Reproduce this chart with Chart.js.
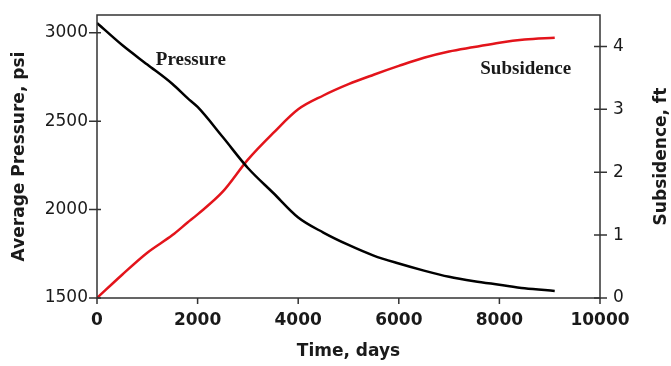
<!DOCTYPE html>
<html lang="en">
<head>
<meta charset="UTF-8" />
<title>Pressure and Subsidence</title>
<script src="https://cdn.jsdelivr.net/npm/chart.js"></script>
<style>
  html, body { margin: 0; padding: 0; background: #fff; }
  #wrap { width: 671px; height: 366px; position: relative; }
</style>
</head>
<body>
<div id="wrap"><canvas id="chart"></canvas></div>
<script>
// data
const timeDays = [0, 500, 1000, 1500, 1800, 2000, 2500, 3000, 3500, 4000, 4500, 5000, 5500, 6000, 6500, 7000, 7500, 8000, 8500, 9100];
const pressurePsi = [3055, 2930, 2820, 2710, 2630, 2580, 2410, 2235, 2095, 1955, 1870, 1800, 1740, 1695, 1655, 1620, 1595, 1575, 1555, 1540];
const subsidenceFt = [0, 0.37, 0.72, 1.0, 1.2, 1.33, 1.69, 2.2, 2.62, 3.0, 3.22, 3.4, 3.55, 3.69, 3.82, 3.92, 3.99, 4.06, 4.11, 4.14];

const timeTicks = [0, 2000, 4000, 6000, 8000, 10000];
const pressureTicks = [1500, 2000, 2500, 3000];
const subsidenceTicks = [0, 1, 2, 3, 4];

const sans = '"DejaVu Sans", sans-serif';
const ink = '#1a1a1a';

const frame = {
  id: 'frame',
  afterDraw(chart) {
    const { ctx, chartArea: a, scales: { x, y, y1 } } = chart;
    ctx.save();
    ctx.strokeStyle = '#333';
    ctx.lineWidth = 1.5;
    ctx.strokeRect(a.left, a.top, a.right - a.left, a.bottom - a.top);
    ctx.beginPath();
    x.ticks.forEach(t => {
      const px = x.getPixelForValue(t.value);
      ctx.moveTo(px, a.bottom); ctx.lineTo(px, a.bottom + 6);
    });
    y.ticks.forEach(t => {
      const py = y.getPixelForValue(t.value);
      ctx.moveTo(a.left - 8, py); ctx.lineTo(a.left + 4, py);
    });
    y1.ticks.forEach(t => {
      const py = y1.getPixelForValue(t.value);
      ctx.moveTo(a.right - 6, py); ctx.lineTo(a.right + 7, py);
    });
    ctx.stroke();

    // curve labels
    ctx.fillStyle = ink;
    ctx.font = 'bold 19px "Liberation Serif", serif';
    ctx.textAlign = 'left';
    ctx.textBaseline = 'middle';
    ctx.fillText('Pressure', x.getPixelForValue(1170), y.getPixelForValue(2846));
    ctx.fillText('Subsidence', x.getPixelForValue(7620), y1.getPixelForValue(3.64));

    // right axis title, reading bottom to top
    ctx.font = 'bold 17px ' + sans;
    ctx.textAlign = 'center';
    ctx.translate(662, (a.top + a.bottom) / 2);
    ctx.rotate(-Math.PI / 2);
    ctx.fillText('Subsidence, ft', 0, 0);
    ctx.restore();
  }
};

const plain = v => String(v);
const noPad = w => s => { s.width = w; s.paddingTop = 0; s.paddingBottom = 0; };

new Chart(document.getElementById('chart'), {
  type: 'line',
  data: {
    datasets: [
      {
        label: 'Pressure',
        data: timeDays.map((t, i) => ({ x: t, y: pressurePsi[i] })),
        borderColor: '#000',
        borderWidth: 2.5,
        pointRadius: 0,
        cubicInterpolationMode: 'monotone',
        yAxisID: 'y'
      },
      {
        label: 'Subsidence',
        data: timeDays.map((t, i) => ({ x: t, y: subsidenceFt[i] })),
        borderColor: '#e3141b',
        borderWidth: 2.5,
        pointRadius: 0,
        cubicInterpolationMode: 'monotone',
        yAxisID: 'y1'
      }
    ]
  },
  options: {
    responsive: true,
    maintainAspectRatio: false,
    animation: false,
    layout: { padding: { top: 15, left: 0, right: 0, bottom: 0 } },
    plugins: { legend: { display: false }, tooltip: { enabled: false } },
    scales: {
      x: {
        type: 'linear',
        position: 'bottom',
        min: 0,
        max: 10000,
        afterBuildTicks: s => { s.ticks = timeTicks.map(v => ({ value: v })); },
        afterFit: s => { s.height = 68; },
        grid: { display: false, drawTicks: false },
        border: { display: false },
        ticks: { color: ink, font: { family: sans, size: 17, weight: 'bold' }, padding: 12, maxRotation: 0, callback: plain },
        title: { display: true, text: 'Time, days', color: ink, font: { family: sans, size: 17, weight: 'bold' }, padding: { top: 0, bottom: 4 } }
      },
      y: {
        position: 'left',
        min: 1500,
        max: 3100,
        afterBuildTicks: s => { s.ticks = pressureTicks.map(v => ({ value: v })); },
        afterFit: noPad(97),
        grid: { display: false, drawTicks: false },
        border: { display: false },
        ticks: { color: ink, font: { family: sans, size: 17 }, padding: 9, callback: plain },
        title: { display: true, text: 'Average Pressure, psi', color: ink, font: { family: sans, size: 17, weight: 'bold' }, padding: { top: 9, bottom: 0 } }
      },
      y1: {
        position: 'right',
        min: 0,
        max: 4.5,
        afterBuildTicks: s => { s.ticks = subsidenceTicks.map(v => ({ value: v })); },
        afterFit: noPad(71),
        grid: { display: false, drawTicks: false },
        border: { display: false },
        ticks: { color: ink, font: { family: sans, size: 17 }, padding: 13, callback: plain }
      }
    }
  },
  plugins: [frame]
});
</script>
</body>
</html>
